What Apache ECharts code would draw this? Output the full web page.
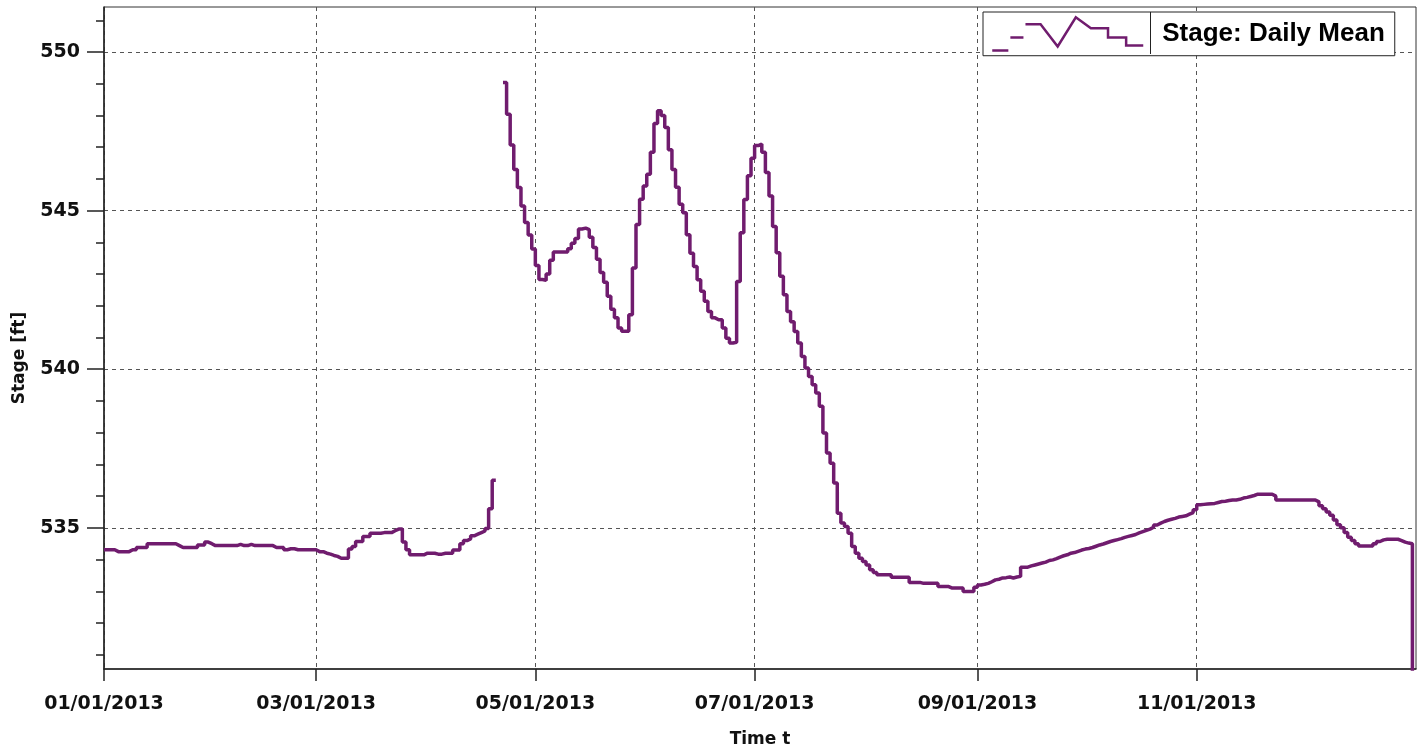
<!DOCTYPE html>
<html>
<head>
<meta charset="utf-8">
<title>Stage: Daily Mean</title>
<script src="https://cdn.jsdelivr.net/npm/echarts@6/dist/echarts.min.js"></script>
<style>
  html, body { margin: 0; padding: 0; background: #fff; }
  #chart { width: 1422px; height: 755px; }
</style>
</head>
<body>
<div id="chart"></div>
<script>
// daily mean stage [ft], one value per day, 2013 (null = no data)
var jan = [534.31, 534.31, 534.31, 534.25, 534.25, 534.25, 534.25, 534.31, 534.31, 534.38, 534.38, 534.38,
  534.5, 534.5, 534.5, 534.5, 534.5, 534.5, 534.5, 534.5, 534.44, 534.38, 534.38, 534.38, 534.38, 534.38,
  534.46, 534.46, 534.55, 534.5, 534.44];
var feb = [534.44, 534.44, 534.44, 534.44, 534.44, 534.44, 534.48, 534.44, 534.44, 534.48, 534.44, 534.44,
  534.44, 534.44, 534.44, 534.44, 534.38, 534.38, 534.38, 534.31, 534.34, 534.34, 534.31, 534.31, 534.31,
  534.31, 534.31, 534.31];
var mar = [534.25, 534.25, 534.2, 534.17, 534.13, 534.1, 534.04, 534.04, 534.04, 534.33, 534.41, 534.57,
  534.57, 534.73, 534.73, 534.83, 534.83, 534.83, 534.85, 534.85, 534.85, 534.91, 534.96, 534.96, 534.55,
  534.31, 534.15, 534.15, 534.15, 534.15, 534.2];
var apr = [534.2, 534.2, 534.17, 534.17, 534.2, 534.2, 534.2, 534.3, 534.3, 534.5, 534.6, 534.65, 534.75,
  534.8, 534.85, 534.9, 534.98, 535.6, 536.5, null, null, 549.04, 548.04, 547.07, 546.3, 545.73, 545.15,
  544.63, 544.23, 543.79];
var may = [543.27, 542.83, 542.8, 543.0, 543.44, 543.7, 543.7, 543.7, 543.7, 543.8, 543.97, 544.12, 544.42,
  544.45, 544.4, 544.16, 543.84, 543.47, 543.05, 542.74, 542.3, 541.89, 541.62, 541.3, 541.2, 541.2, 541.72,
  543.19, 544.56, 545.36, 545.78];
var jun = [546.15, 546.84, 547.75, 548.15, 548.0, 547.62, 546.92, 546.3, 545.74, 545.2, 544.93, 544.24,
  543.66, 543.24, 542.82, 542.46, 542.14, 541.82, 541.62, 541.56, 541.56, 541.3, 540.98, 540.83, 540.85,
  542.77, 544.3, 545.35, 546.1, 546.65];
var jul = [547.05, 547.1, 546.84, 546.2, 545.46, 544.5, 543.67, 542.93, 542.35, 541.82, 541.5, 541.19,
  540.83, 540.4, 540.04, 539.77, 539.51, 539.25, 538.83, 537.99, 537.36, 537.04, 536.41, 535.46, 535.15,
  535.04, 534.83, 534.41, 534.2, 534.04, 533.94];
var aug = [533.83, 533.68, 533.59, 533.52, 533.52, 533.52, 533.52, 533.44, 533.44, 533.44, 533.44, 533.44,
  533.28, 533.28, 533.28, 533.25, 533.25, 533.25, 533.25, 533.25, 533.15, 533.15, 533.15, 533.1, 533.1,
  533.1, 533.1, 532.99, 532.99, 532.99, 533.13];
var sep = [533.2, 533.22, 533.25, 533.3, 533.36, 533.38, 533.42, 533.43, 533.45, 533.42, 533.45, 533.47,
  533.76, 533.76, 533.8, 533.83, 533.86, 533.89, 533.92, 533.97, 533.99, 534.03, 534.08, 534.12, 534.15,
  534.2, 534.22, 534.26, 534.3, 534.33];
var oct = [534.35, 534.38, 534.42, 534.46, 534.49, 534.53, 534.57, 534.6, 534.63, 534.66, 534.7, 534.73,
  534.76, 534.79, 534.84, 534.88, 534.92, 534.96, 535.02, 535.09, 535.15, 535.2, 535.24, 535.27, 535.3,
  535.34, 535.36, 535.38, 535.43, 535.48, 535.57];
var nov = [535.73, 535.74, 535.75, 535.76, 535.77, 535.8, 535.83, 535.84, 535.86, 535.88, 535.88, 535.9,
  535.94, 535.96, 535.99, 536.02, 536.06, 536.06, 536.06, 536.06, 536.06, 536.0, 535.88, 535.88, 535.88,
  535.88, 535.88, 535.88, 535.88, 535.88];
var dec = [535.88, 535.88, 535.88, 535.82, 535.7, 535.6, 535.5, 535.4, 535.25, 535.1, 535.0, 534.85, 534.7,
  534.6, 534.5, 534.43, 534.43, 534.43, 534.43, 534.5, 534.57, 534.62, 534.64, 534.64, 534.64, 534.64,
  534.6, 534.55, 534.52, 534.5, 530.4];

var yMajorTicks = [535, 540, 545, 550];
var yMinorTicks = [531, 532, 533, 534, 536, 537, 538, 539, 541, 542, 543, 544, 546, 547, 548, 549, 551];
var xTickDates = ["2013-01-01", "2013-03-01", "2013-05-01", "2013-07-01", "2013-09-01", "2013-11-01"];

var yMin = 530.55;
var yMax = 551.42;
var lineColor = "#701c6e";

function toTime(s) {
  var p = s.split("-");
  return new Date(+p[0], +p[1] - 1, +p[2]).getTime();
}

function pad(n) {
  return n < 10 ? "0" + n : "" + n;
}

var values = [].concat(jan, feb, mar, apr, may, jun, jul, aug, sep, oct, nov, dec);
var seriesData = [];
for (var i = 0; i < values.length; i++) {
  seriesData.push([new Date(2013, 0, 1 + i).getTime(), values[i]]);
}
var xTicks = xTickDates.map(toTime);

var axisColor = "#222";
var gridLine = { show: true, lineStyle: { color: "#555", width: 1, type: [4, 4] } };
var font = "DejaVu Sans";

var option = {
  animation: false,
  backgroundColor: "#fff",
  grid: {
    left: 104,
    right: 6,
    top: 7,
    bottom: 86,
    show: true,
    borderColor: "#333",
    borderWidth: 1
  },
  legend: {
    left: 983,
    top: 12,
    padding: [4, 10, 4, 8],
    backgroundColor: "#fff",
    borderColor: "#222",
    borderWidth: 1,
    borderRadius: 0,
    itemWidth: 151,
    itemHeight: 34,
    // step-line glyph like the original legend
    icon: "path://M2,35L18,35M20,22L33,22M35,9L50,9L67,31L85,2L100,13L117,13L117,22L135,22L135,30L152,30",
    itemStyle: { color: "transparent", borderColor: lineColor, borderWidth: 2.5 },
    textStyle: {
      fontFamily: "Liberation Sans",
      fontWeight: "bold",
      fontSize: 26,
      color: "#000",
      padding: [0, 0, 0, 14]
    },
    data: ["Stage: Daily Mean"]
  },
  graphic: [
    {
      type: "line",
      shape: { x1: 1150.5, y1: 12, x2: 1150.5, y2: 54 },
      style: { stroke: "#222", lineWidth: 1 },
      z: 100
    }
  ],
  xAxis: {
    // timestamps on a value axis so the tick dates can be fixed
    type: "value",
    min: toTime("2013-01-01"),
    max: toTime("2014-01-01"),
    name: "Time t",
    nameLocation: "middle",
    nameGap: 62,
    nameTextStyle: { fontFamily: font, fontWeight: "bold", fontSize: 17, color: "#111" },
    axisLine: { show: true, lineStyle: { color: axisColor, width: 1.5 } },
    axisTick: { show: true, length: 12, customValues: xTicks, lineStyle: { color: axisColor, width: 1.5 } },
    axisLabel: {
      customValues: xTicks,
      margin: 26,
      fontFamily: font,
      fontWeight: "bold",
      fontSize: 19,
      color: "#111",
      formatter: function (v) {
        var d = new Date(v);
        return pad(d.getMonth() + 1) + "/" + pad(d.getDate()) + "/" + d.getFullYear();
      }
    },
    splitLine: gridLine
  },
  yAxis: [
    {
      type: "value",
      position: "left",
      min: yMin,
      max: yMax,
      name: "Stage [ft]",
      nameLocation: "middle",
      nameGap: 76,
      nameTextStyle: { fontFamily: font, fontWeight: "bold", fontSize: 17, color: "#111", padding: [0, 40, 0, 0] },
      axisLine: { show: true, lineStyle: { color: axisColor, width: 1.5 } },
      axisTick: { show: true, length: 17, customValues: yMajorTicks, lineStyle: { color: axisColor, width: 1.5 } },
      axisLabel: {
        customValues: yMajorTicks,
        margin: 24,
        fontFamily: font,
        fontWeight: "bold",
        fontSize: 19,
        color: "#111"
      },
      splitLine: gridLine
    },
    {
      // minor ticks only
      type: "value",
      position: "left",
      min: yMin,
      max: yMax,
      axisLine: { show: false },
      axisTick: { show: true, length: 8, customValues: yMinorTicks, lineStyle: { color: axisColor, width: 1.5 } },
      axisLabel: { show: false },
      splitLine: { show: false }
    }
  ],
  series: [
    {
      name: "Stage: Daily Mean",
      type: "line",
      yAxisIndex: 0,
      step: "end",
      showSymbol: false,
      symbol: "none",
      lineStyle: { color: lineColor, width: 3.5 },
      itemStyle: { color: lineColor },
      data: seriesData
    }
  ]
};

var chart = echarts.init(document.getElementById("chart"));
chart.setOption(option);
window.addEventListener("resize", function () {
  chart.resize();
});
</script>
</body>
</html>
